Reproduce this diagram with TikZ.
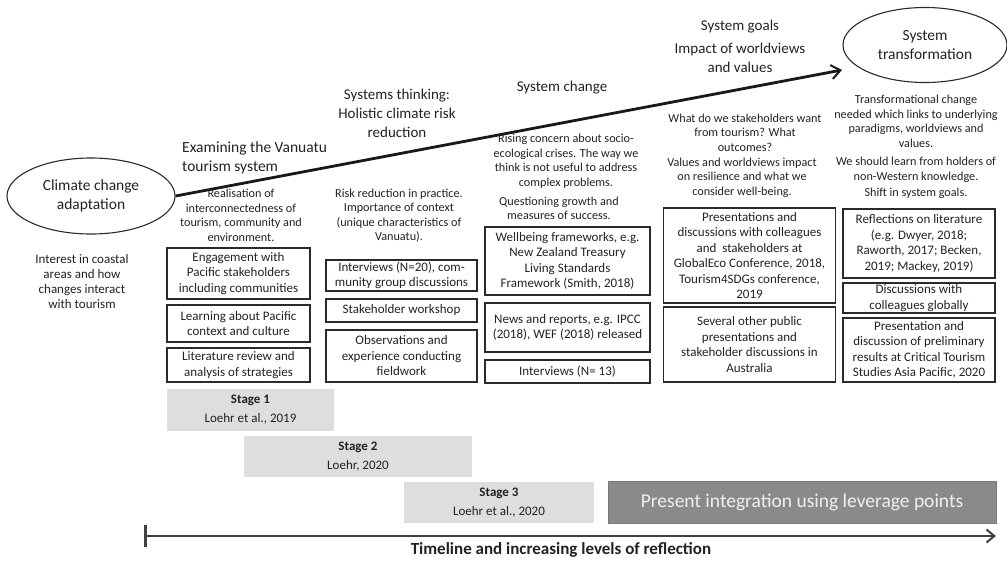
\documentclass[tikz,border=0pt]{standalone}
\usepackage{fontspec}
\setmainfont{Carlito}
\usetikzlibrary{shapes.geometric,arrows.meta}
\definecolor{txt}{HTML}{222222}
\definecolor{bord}{HTML}{2A2A2A}
\definecolor{stagegray}{HTML}{DEDEDE}
\definecolor{presgray}{HTML}{8A8A8A}
\definecolor{presborder}{HTML}{7A7A7A}
\definecolor{prestext}{HTML}{F0F0F0}
\definecolor{tlgray}{HTML}{404040}
\tikzset{
  sm/.style={align=center, inner sep=0pt, text=txt, font=\fontsize{12.2}{14.5}\selectfont},
  hd/.style={align=center, inner sep=0pt, text=txt, font=\fontsize{15}{18.7}\selectfont},
  bx/.style={draw=bord, line width=1.1pt, align=center, inner sep=1pt, text=txt, font=\fontsize{13}{15.5}\selectfont},
  stg/.style={fill=stagegray, align=center, inner sep=0pt, text=txt, font=\fontsize{13}{19}\selectfont},
  ell/.style={ellipse, draw=bord, line width=1.1pt, align=center, inner sep=0pt, text=txt, font=\fontsize{15.5}{18.5}\selectfont},
}
\begin{document}
\begin{tikzpicture}[x=1pt,y=-1pt]
\useasboundingbox (0,0) rectangle (1007,560);

% ellipses
\node[ell, minimum width=168pt, minimum height=76pt] (cca) at (91,196) {Climate change\\adaptation};
\node[ell, minimum width=164pt, minimum height=75pt] (st) at (925,45) {System\\transformation};
\coordinate (tip) at (842,70);
\draw[line width=2.8pt, draw=black!90, -{Straight Barb[length=9pt,width=14pt,line width=2pt]}] (cca.east) -- (tip);

% headings
\node[hd, anchor=west, align=left, font=\fontsize{15.5}{19}\selectfont] (h1) at (182,157.5) {Examining the Vanuatu\\tourism system};
\node[hd] (h2) at (397,113.5) {Systems thinking:\\Holistic climate risk\\reduction};
\node[hd] (h3) at (562,88) {System change};
\node[hd] (h4a) at (740,27) {System goals};
\node[hd] (h4b) at (740,58) {Impact of worldviews\\and values};

% descriptive texts
\node[sm, font=\fontsize{13}{14.8}\selectfont] (t0) at (82,281.5) {Interest in coastal\\areas and how\\changes interact\\with tourism};
\node[sm] (t1) at (241,215.5) {Realisation of\\interconnectedness of\\tourism, community and\\environment.};
\node[sm] (t2) at (399,215.5) {Risk reduction in practice.\\Importance of context\\(unique characteristics of\\Vanuatu).};
\node[sm] (t3a) at (566,161) {Rising concern about socio-\\ecological crises. The way we\\think is not useful to address\\complex problems.};
\node[sm] (t3b) at (559,208.5) {Questioning growth and\\measures of success.};
\node[sm] (t4a) at (745,132.5) {What do we stakeholders want\\from tourism? What\\outcomes?};
\node[sm] (t4b) at (742,177.5) {Values and worldviews impact\\on resilience and what we\\consider well-being.};
\node[sm] (t5a) at (916,121.5) {Transformational change\\needed which links to underlying\\paradigms, worldviews and\\values.};
\node[sm] (t5b) at (916,170) {We should learn from holders of\\non-Western knowledge.};
\node[sm] (t5c) at (916,193) {Shift in system goals.};

% column 1 boxes
\node[bx, minimum width=143pt, minimum height=51pt] (b1a) at (238.5,273.5) {Engagement with\\Pacific stakeholders\\including communities};
\node[bx, minimum width=143pt, minimum height=37pt] (b1b) at (238.5,323.5) {Learning about Pacific\\context and culture};
\node[bx, minimum width=143pt, minimum height=34pt] (b1c) at (238.5,365) {Literature review and\\analysis of strategies};
% column 2 boxes
\node[bx, minimum width=151pt, minimum height=31pt] (b2a) at (401.5,275.5) {Interviews (N=20), com-\\munity group discussions};
\node[bx, minimum width=151pt, minimum height=23pt] (b2b) at (401.5,310.5) {Stakeholder workshop};
\node[bx, minimum width=151pt, minimum height=52pt] (b2c) at (401.5,356) {Observations and\\experience conducting\\fieldwork};
% column 3 boxes
\node[bx, minimum width=165pt, minimum height=68pt] (b3a) at (567.5,261) {Wellbeing frameworks, e.g.\\New Zealand Treasury\\Living Standards\\Framework (Smith, 2018)};
\node[bx, minimum width=165pt, minimum height=49pt] (b3b) at (567.5,327.5) {News and reports, e.g. IPCC\\(2018), WEF (2018) released};
\node[bx, minimum width=165pt, minimum height=23pt] (b3c) at (567.5,371.5) {Interviews (N= 13)};
% column 4 boxes
\node[bx, minimum width=172pt, minimum height=95pt] (b4a) at (749.5,255.5) {Presentations and\\discussions with colleagues\\and\ \ stakeholders at\\GlobalEco Conference, 2018,\\Tourism4SDGs conference,\\2019};
\node[bx, minimum width=172pt, minimum height=75pt] (b4b) at (749.5,344.5) {Several other public\\presentations and\\stakeholder discussions in\\Australia};
% column 5 boxes
\node[bx, minimum width=152pt, minimum height=69pt] (b5a) at (919,243.5) {Reflections on literature\\(e.g. Dwyer, 2018;\\Raworth, 2017; Becken,\\2019; Mackey, 2019)};
\node[bx, minimum width=152pt, minimum height=30pt] (b5b) at (919,298) {Discussions with\\colleagues globally};
\node[bx, minimum width=152pt, minimum height=64pt] (b5c) at (919,350) {Presentation and\\discussion of preliminary\\results at Critical Tourism\\Studies Asia Pacific, 2020};

% stages
\node[stg, minimum width=167pt, minimum height=42pt] (s1) at (250.5,410) {\textbf{Stage 1}\\Loehr et al., 2019};
\node[stg, minimum width=228pt, minimum height=41pt] (s2) at (358,456.5) {\textbf{Stage 2}\\Loehr, 2020};
\node[stg, minimum width=190pt, minimum height=41pt] (s3) at (499,502.5) {\textbf{Stage 3}\\Loehr et al., 2020};
\node[fill=presgray, draw=presborder, line width=0.8pt, minimum width=388pt, minimum height=42pt, inner sep=0pt, text=prestext, font=\fontsize{19.5}{22}\selectfont] (pi) at (802,502) {Present integration using leverage points};

% timeline
\coordinate (tl0) at (144,536);
\coordinate (tl1) at (996,536);
\draw[tlgray, line width=2.6pt, {Bar[width=22pt,line width=2.6pt]}-{Straight Barb[length=8pt,width=13pt,line width=2pt]}] (tl0) -- (tl1);
\node[inner sep=0pt, text=txt, font=\fontsize{17}{20}\selectfont\bfseries] (tll) at (561,550) {Timeline and increasing levels of reflection};
\end{tikzpicture}
\end{document}
